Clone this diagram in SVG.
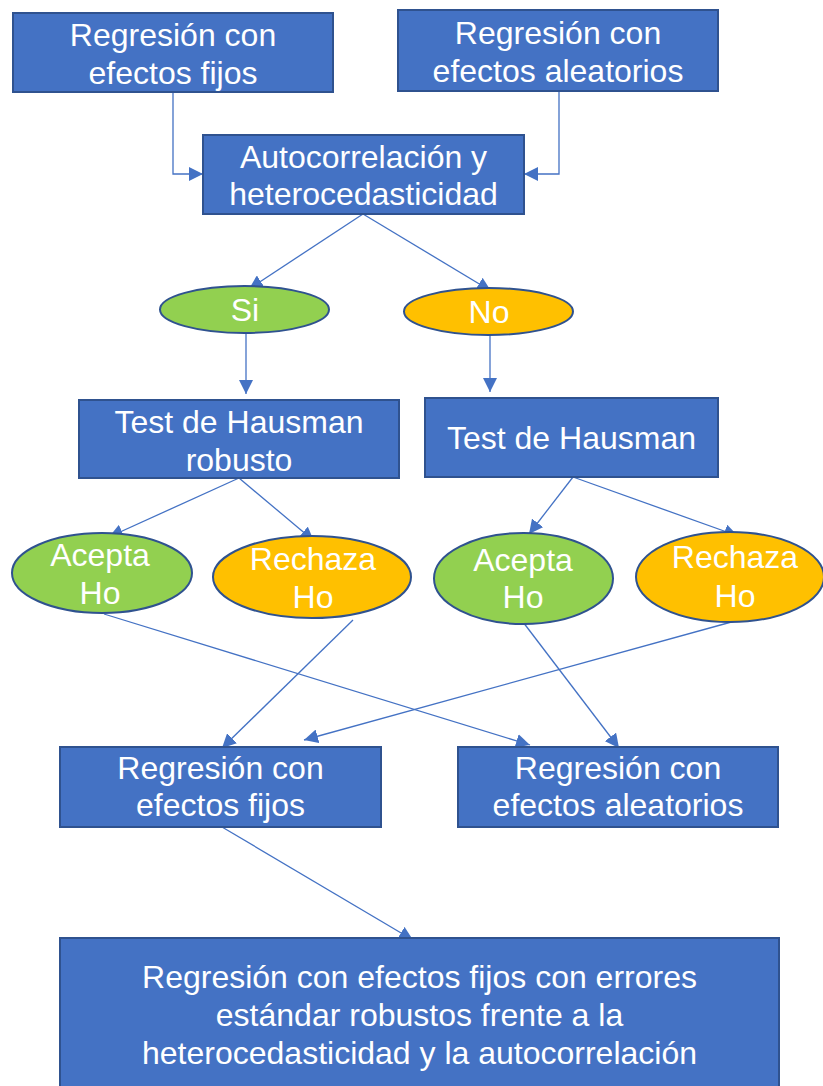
<svg xmlns="http://www.w3.org/2000/svg" width="823" height="1086" viewBox="0 0 823 1086">
<defs>
<marker id="arr" viewBox="0 0 10 10" refX="10" refY="5" markerWidth="14" markerHeight="14" markerUnits="userSpaceOnUse" orient="auto">
<path d="M0,0 L10,5 L0,10 z" fill="#4472C4"/>
</marker>
<style>
.box{fill:#4472C4;stroke:#2F528F;stroke-width:2}
.yes{fill:#92D050;stroke:#2F528F;stroke-width:2}
.no{fill:#FFC000;stroke:#2F528F;stroke-width:2}
.c{fill:none;stroke:#4472C4;stroke-width:1.3;marker-end:url(#arr)}
text{font-family:"Liberation Sans",Arial,sans-serif;font-size:32px;fill:#FFFFFF;text-anchor:middle}
</style>
</defs>
<rect width="823" height="1086" fill="#FFFFFF"/>
<g id="connectors">
<polyline class="c" points="173,92 173,174 203,174"/>
<polyline class="c" points="559,91 559,174 524,174"/>
<line class="c" x1="363" y1="214" x2="249" y2="289"/>
<line class="c" x1="363" y1="214" x2="491" y2="291"/>
<line class="c" x1="246" y1="333" x2="246" y2="394"/>
<line class="c" x1="490" y1="335" x2="490" y2="392"/>
<line class="c" x1="239" y1="478" x2="109" y2="537"/>
<line class="c" x1="239" y1="478" x2="314" y2="541"/>
<line class="c" x1="573" y1="477" x2="529" y2="534"/>
<line class="c" x1="573" y1="477" x2="738" y2="536"/>
<line class="c" x1="104" y1="614" x2="530" y2="745"/>
<line class="c" x1="353" y1="620" x2="222" y2="748"/>
<line class="c" x1="523" y1="622" x2="619" y2="748"/>
<line class="c" x1="735" y1="621" x2="304" y2="740"/>
<line class="c" x1="222" y1="827" x2="413" y2="940"/>
</g>
<g id="n1"><rect class="box" x="13" y="13" width="320" height="79"/><text x="173" y="46">Regresión con</text><text x="173" y="84">efectos fijos</text></g>
<g id="n2"><rect class="box" x="398" y="10" width="320" height="81"/><text x="558" y="44">Regresión con</text><text x="558" y="82">efectos aleatorios</text></g>
<g id="n3"><rect class="box" x="203" y="135" width="321" height="79"/><text x="363.5" y="168">Autocorrelación y</text><text x="363.5" y="205">heterocedasticidad</text></g>
<g id="si"><ellipse class="yes" cx="244.5" cy="309.5" rx="84.5" ry="23.5"/><text x="245" y="321">Si</text></g>
<g id="no"><ellipse class="no" cx="488.5" cy="311.5" rx="84.5" ry="23.5"/><text x="489" y="323">No</text></g>
<g id="hr"><rect class="box" x="79" y="400" width="320" height="78"/><text x="239" y="433">Test de Hausman</text><text x="239" y="471">robusto</text></g>
<g id="h"><rect class="box" x="425" y="398" width="293" height="79"/><text x="571.5" y="449">Test de Hausman</text></g>
<g id="a1"><ellipse class="yes" cx="102" cy="573" rx="90" ry="40"/><text x="100" y="566">Acepta</text><text x="100" y="604">Ho</text></g>
<g id="r1"><ellipse class="no" cx="312" cy="577" rx="99" ry="41"/><text x="313" y="570">Rechaza</text><text x="313" y="608">Ho</text></g>
<g id="a2"><ellipse class="yes" cx="523.5" cy="578.5" rx="89.5" ry="45.5"/><text x="523" y="571">Acepta</text><text x="523" y="608">Ho</text></g>
<g id="r2"><ellipse class="no" cx="730" cy="577" rx="94" ry="45"/><text x="735" y="568">Rechaza</text><text x="735" y="607">Ho</text></g>
<g id="fe"><rect class="box" x="60" y="747" width="321" height="80"/><text x="220.5" y="779">Regresión con</text><text x="220.5" y="816">efectos fijos</text></g>
<g id="re"><rect class="box" x="458" y="747" width="320" height="80"/><text x="618" y="779">Regresión con</text><text x="618" y="816">efectos aleatorios</text></g>
<g id="final"><rect class="box" x="60" y="938" width="719" height="152"/><text x="419.5" y="988">Regresión con efectos fijos con errores</text><text x="419.5" y="1026">estándar robustos frente a la</text><text x="419.5" y="1064">heterocedasticidad y la autocorrelación</text></g>
</svg>
